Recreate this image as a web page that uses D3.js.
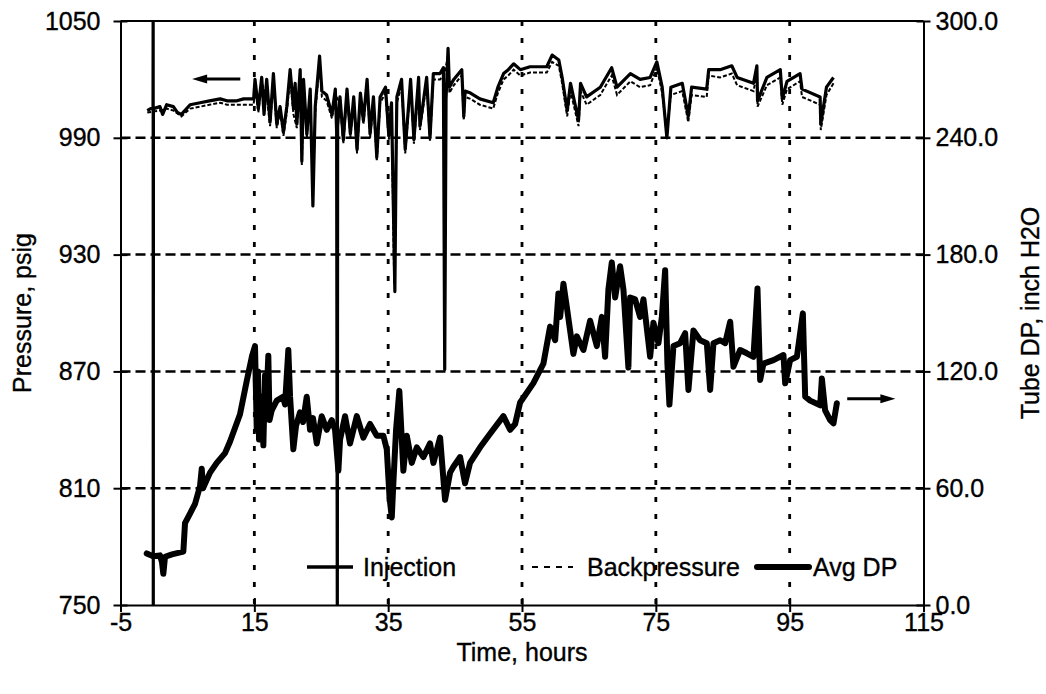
<!DOCTYPE html>
<meta charset="utf-8">
<style>
body { margin: 0; background: #fff; }
text { font-family: "Liberation Sans", Arial, sans-serif; fill: #000; stroke: #000; stroke-width: 0.35px; }
.axis path, .axis line { stroke: #000; stroke-width: 2px; }
.axis text { font-size: 25px; }
.grid-h { stroke: #000; stroke-width: 2.5px; stroke-dasharray: 10,5; }
.grid-v { stroke: #000; stroke-width: 2.8px; stroke-dasharray: 5,12; }
.inj { fill: none; stroke: #000; stroke-width: 3.2px; stroke-linejoin: round; }
.bp { fill: none; stroke: #000; stroke-width: 2px; stroke-dasharray: 4,2; }
.dp { fill: none; stroke: #000; stroke-width: 6px; stroke-linejoin: round; stroke-linecap: round; }
.title { font-size: 25px; }
.legend text { font-size: 25px; }
</style>
<body>
<svg width="1046" height="694"></svg>
<script src="https://d3js.org/d3.v7.min.js"></script>
<script>
// tick values
var timeTicks = [-5, 15, 35, 55, 75, 95, 115];
var pressureTicks = [750, 810, 870, 930, 990, 1050];
var dpTicks = [0, 60, 120, 180, 240, 300];
var legendNames = ["Injection", "Backpressure", "Avg DP"];

// [time (h), pressure (psig)]
var injection = [
  [-1.0,1004],[-0.5,1005],[-0.14,1005],[-0.12,1060],[-0.1,740],[-0.08,1005],
  [0.9,1006],[1.3,1002],[1.9,1007],[2.9,1006],[3.5,1003],[4.1,1002],[5.4,1007],[6.9,1008],
  [8.3,1009],[9.9,1010],[10.9,1009],[12.4,1009],[13.4,1010],[14.9,1010],
  [15.1,1020],[15.6,1005],[16.1,1021],[16.45,1002],[16.85,1020],[17.35,998],[17.85,1023],
  [18.35,997],[18.85,1006],[19.35,993],[19.85,1006],[20.35,1025],[20.85,1005],[21.1,1018],
  [21.35,997],[21.85,1025],[22.1,978],[22.35,1020],[22.85,992],[23.35,1015],[23.75,955],
  [24.1,1006],[24.75,1032],[25.1,1014],[25.8,1012],[26.6,1002],[27.1,1015],[27.3,993],
  [27.4,740],[27.45,996],[27.8,1011],[28.3,989],[28.85,1015],[29.35,992],[29.85,1011],
  [30.35,984],[30.85,1013],[31.3,999],[31.85,1020],[32.3,992],[32.8,1011],[33.3,980],
  [33.8,1011],[34.6,1016],[35.1,991],[35.5,1008],[35.8,950],[36.0,911],[36.2,985],
  [36.3,1011],[37.0,1020],[37.55,984],[38.35,1020],[38.85,989],[39.55,1021],[39.75,996],
  [40.75,1021],[41.25,990],[41.75,1023],[42.75,1023],[43.25,1026],[43.45,871],[43.65,1010],
  [43.95,1036],[44.15,1016],[44.8,1020],[46.0,1025],[46.3,1001],[46.5,1014],[47.3,1013],
  [48.7,1010],[50.7,1008],[51.4,1016],[52.25,1023],[52.95,1025],[53.75,1028],[54.75,1025],
  [56.2,1026.5],[58.7,1026.5],[59.5,1032.5],[60.5,1030],[61.0,1021],[61.75,1004],[62.25,1018],
  [63.45,999],[63.75,1018],[64.65,1011],[66.7,1016],[68.4,1026],[69.2,1016],[71.2,1023],
  [72.65,1020],[74.15,1021],[75.15,1029],[75.95,1016],[76.65,990],[77.25,1016],[78.95,1018],
  [79.85,1001],[80.35,1016],[82.6,1015],[82.9,1025],[84.6,1025],[86.35,1027],[87.15,1021],
  [89.6,1018],[90.1,1027],[90.2,1009],[91.6,1021],[93.6,1025],[93.9,1010],[94.6,1019],
  [96.55,1023],[96.85,1015],[99.55,1011],[99.65,997],[100.5,1016],[101.55,1021]
];

// [time (h), pressure (psig)]
var backpressure = [
  [-1.0,1003],[0.9,1004],[1.9,1005],[2.9,1004],[4.1,1001],[5.4,1005],[6.9,1006],[8.3,1007],
  [9.9,1008],[10.9,1007],[12.4,1007],[13.4,1007],[14.9,1007],[15.1,1016],[15.6,1003],
  [16.1,1018],[16.85,1012],[17.35,996],[17.85,1019],[18.35,995],[18.85,1003],[19.35,991],
  [19.85,1003],[20.35,1021],[20.85,1002],[21.35,995],[21.85,1021],[22.1,976],[22.35,1016],
  [22.85,990],[23.35,1012],[23.75,960],[24.1,1003],[24.75,1028],[25.1,1011],[25.8,1009],
  [26.6,1000],[27.1,1012],[27.8,1008],[28.3,987],[28.85,1012],[29.35,990],[29.85,1008],
  [30.35,982],[30.85,1010],[31.3,997],[31.85,1017],[32.3,990],[32.8,1008],[33.3,978],
  [33.8,1008],[34.6,1013],[35.1,989],[35.5,1005],[35.9,915],[36.2,983],[36.3,1008],
  [37.0,1017],[37.55,982],[38.35,1017],[38.85,987],[39.55,1018],[39.75,994],[40.75,1018],
  [41.25,988],[41.75,1020],[42.75,1020],[43.35,1022],[43.95,1032],[44.15,1013],[44.8,1017],
  [46.0,1022],[46.3,999],[46.5,1011],[47.3,1010],[48.7,1007],[50.7,1005],[51.4,1013],
  [52.25,1020],[52.95,1022],[53.75,1025],[54.75,1022],[56.2,1023.5],[58.7,1023.5],[59.5,1029],
  [60.5,1027],[61.0,1018],[61.75,1001],[62.25,1014],[63.45,996],[63.75,1014],[64.65,1007],
  [66.7,1012],[68.4,1022],[69.2,1012],[71.2,1019],[72.65,1016],[74.15,1017],[75.15,1026],
  [75.95,1013],[76.65,993],[77.25,1012],[78.95,1014],[79.85,998],[80.35,1012],[82.6,1011],
  [82.9,1022],[84.6,1021],[86.35,1023],[87.15,1017],[89.6,1014],[90.1,1023],[90.2,1006],
  [91.6,1017],[93.6,1021],[93.9,1007],[94.6,1015],[96.55,1019],[96.85,1011],[99.55,1007],
  [99.65,994],[100.5,1012],[101.55,1018]
];

// [time (h), tube DP (inch H2O)]
var avgDP = [
  [-1.08,26.5],[-0.1,25],[0.9,25.5],[1.2,22],[1.4,16],[1.65,24.8],[2.7,26],[4.39,27.4],
  [4.64,42],[5.39,47],[6.14,52],[6.88,61],[7.14,70],[7.33,60],[8.38,68],[9.38,73],
  [10.62,78],[11.37,84],[12.86,98],[13.86,115],[14.66,128],[15.1,133],[15.36,90],[15.55,120],
  [15.7,85],[16.1,107],[16.35,82],[16.6,118],[16.75,100],[17.09,128],[17.27,95],[17.6,100],
  [18.35,105],[19.29,107],[19.59,103],[20.08,131],[20.34,107],[20.83,80],[21.23,92],
  [21.83,99],[22.28,94],[22.83,107],[23.33,90],[23.77,96],[24.33,83],[25.07,97],[25.82,90],
  [26.57,95],[27.06,90],[27.56,69],[27.81,85],[28.56,97],[29.3,83],[30.31,97],[31.29,86],
  [32.29,93],[33.3,87],[34.28,87],[34.79,80],[35.21,55],[35.54,45],[35.78,63],[36.18,90],
  [36.67,110],[37.27,69],[37.78,87],[38.53,73],[39.28,81],[40.26,76],[41.26,83],[41.76,73],
  [42.76,86],[43.5,54],[44.25,68],[44.75,71],[45.75,76],[46.49,62.5],[47.24,73],[48.74,81],
  [50.23,88],[52.22,97],[53.22,90],[53.97,93],[54.72,104],[56.7,114],[58.2,124],[59.2,143],
  [59.95,136],[60.44,160],[60.7,148],[61.19,165],[61.7,153],[62.68,129],[63.19,138],
  [64.18,131],[65.18,146],[66.18,133],[66.93,148],[67.42,127.5],[67.91,162],[68.42,176],
  [68.92,158],[69.66,174],[70.16,162],[70.9,122],[71.16,158],[71.9,157],[72.65,148],
  [73.15,157],[74.15,127.5],[74.64,145],[75.39,134.5],[75.9,148],[76.39,172],[76.73,124],
  [77.03,103],[77.63,133],[78.63,134.5],[79.38,139.6],[79.87,110.5],[80.62,141],[81.62,136],
  [82.62,134.5],[83.12,110.5],[83.61,134.5],[84.61,136],[85.36,134.5],[86.11,145.5],
  [86.6,122.4],[87.6,131],[88.6,129.3],[89.59,127.5],[90.19,162.6],[90.59,115.6],[91.08,124],
  [92.58,125.8],[94.07,128.4],[94.33,113.9],[95.07,125.8],[96.08,127.5],[96.97,149.8],
  [97.32,107],[98.06,105],[99.56,102.6],[99.81,116.3],[100.3,100],[101.05,95],[101.55,93.3],
  [102.05,103.6]
];

var svg = d3.select("svg"),
    margin = {top: 21, right: 122.5, bottom: 89, left: 120.5},
    width = +svg.attr("width") - margin.left - margin.right,
    height = +svg.attr("height") - margin.top - margin.bottom;

var x = d3.scaleLinear().domain([-5, 115]).range([0, width]);
var yL = d3.scaleLinear().domain([750, 1050]).range([height, 0]);
var yR = d3.scaleLinear().domain([0, 300]).range([height, 0]);

var g = svg.append("g")
    .attr("transform", "translate(" + margin.left + "," + margin.top + ")");

g.append("defs").append("clipPath").attr("id", "plot")
  .append("rect").attr("width", width).attr("height", height);

// grid
g.selectAll(".grid-h")
    .data(pressureTicks.slice(1, -1))
  .enter().append("line")
    .attr("class", "grid-h")
    .attr("x1", 0).attr("x2", width)
    .attr("y1", function(d) { return yL(d); })
    .attr("y2", function(d) { return yL(d); });

g.selectAll(".grid-v")
    .data(timeTicks.slice(1, -1))
  .enter().append("line")
    .attr("class", "grid-v")
    .attr("y1", 0).attr("y2", height)
    .attr("x1", function(d) { return x(d); })
    .attr("x2", function(d) { return x(d); });

var lineL = d3.line()
    .x(function(d) { return x(d[0]); })
    .y(function(d) { return yL(d[1]); });

var lineR = d3.line()
    .x(function(d) { return x(d[0]); })
    .y(function(d) { return yR(d[1]); });

var plot = g.append("g").attr("clip-path", "url(#plot)");

plot.append("path").datum(backpressure).attr("class", "bp").attr("d", lineL);
plot.append("path").datum(injection).attr("class", "inj").attr("d", lineL);
plot.append("path").datum(avgDP).attr("class", "dp").attr("d", lineR);

// axes
var tk = 7;
var ax = g.append("g")
    .attr("class", "axis")
    .attr("transform", "translate(0," + height + ")")
    .call(d3.axisBottom(x).tickValues(timeTicks).tickSize(tk).tickSizeOuter(0).tickPadding(1)
      .tickFormat(function(d) { return String(d); }));
ax.selectAll(".tick line").attr("y1", -tk);

var ay = g.append("g")
    .attr("class", "axis")
    .call(d3.axisLeft(yL).tickValues(pressureTicks).tickSize(tk).tickSizeOuter(0).tickPadding(13)
      .tickFormat(function(d) { return String(d); }));
ay.selectAll(".tick line").attr("x1", tk);

var ar = g.append("g")
    .attr("class", "axis")
    .attr("transform", "translate(" + width + ",0)")
    .call(d3.axisRight(yR).tickValues(dpTicks).tickSize(tk).tickSizeOuter(0).tickPadding(5)
      .tickFormat(function(d) { return d.toFixed(1); }));
ar.selectAll(".tick line").attr("x1", -tk);

g.append("line")
    .attr("x1", 0).attr("x2", width)
    .attr("y1", 0).attr("y2", 0)
    .attr("stroke", "#000").attr("stroke-width", 2);

// axis titles
svg.append("text")
    .attr("class", "title")
    .attr("text-anchor", "middle")
    .attr("transform", "translate(31," + (margin.top + height / 2) + ") rotate(-90)")
    .text("Pressure, psig");

svg.append("text")
    .attr("class", "title")
    .attr("text-anchor", "middle")
    .attr("transform", "translate(1039," + (margin.top + height / 2) + ") rotate(-90)")
    .text("Tube DP, inch H2O");

svg.append("text")
    .attr("class", "title")
    .attr("text-anchor", "middle")
    .attr("x", margin.left + x(55))
    .attr("y", 661)
    .text("Time, hours");

// arrows showing which axis each group belongs to
function arrow(x0, x1, yy) {
  var dir = x1 > x0 ? 1 : -1;
  g.append("line")
      .attr("x1", x0).attr("x2", x1 - dir * 10)
      .attr("y1", yy).attr("y2", yy)
      .attr("stroke", "#000").attr("stroke-width", 3);
  g.append("path")
      .attr("d", "M" + x1 + "," + yy + "L" + (x1 - dir * 15) + "," + (yy - 4.5) + "L" + (x1 - dir * 15) + "," + (yy + 4.5) + "Z")
      .attr("fill", "#000");
}
arrow(x(12.9), x(5.7), yL(1020.2));
arrow(x(103.6), x(110.8), yR(106));

// legend
var legend = svg.append("g").attr("class", "legend").attr("transform", "translate(0,567)");
var lx = [307, 532, 757], lw = [46, 41, 52], tx = [363, 587, 813];
var lcls = ["inj", "bp", "dp"];
legendNames.forEach(function(name, i) {
  legend.append("line")
      .attr("class", lcls[i])
      .attr("x1", lx[i]).attr("x2", lx[i] + lw[i])
      .attr("y1", 0).attr("y2", 0)
      .style("stroke-width", i == 0 ? 3.5 : null)
      .style("stroke-dasharray", i == 1 ? "6,6" : null);
  legend.append("text")
      .attr("x", tx[i])
      .attr("dy", "0.35em")
      .text(name);
});
</script>
